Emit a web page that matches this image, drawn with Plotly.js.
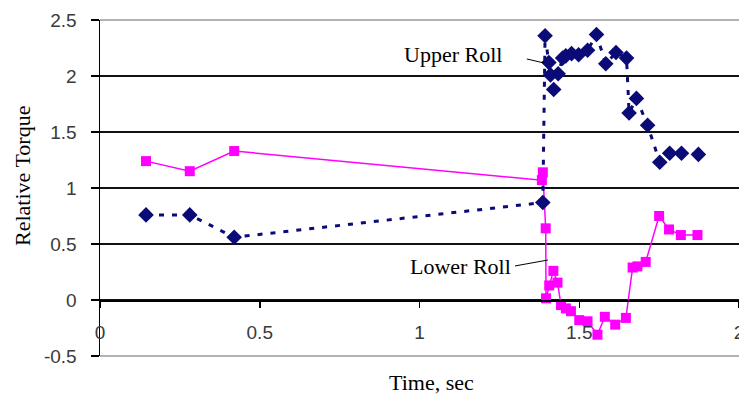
<!DOCTYPE html>
<html>
<head>
<meta charset="utf-8">
<script src="https://cdn.plot.ly/plotly-3.0.1.min.js"></script>
<style>html,body{margin:0;padding:0;background:#fff;}#chart{width:739px;height:397px;}</style>
</head>
<body>
<div id="chart"></div>
<script>
// Upper Roll series (time in sec, relative torque)
var upperX = [0.144, 0.281, 0.42, 1.386, 1.393, 1.405, 1.41, 1.42, 1.434, 1.448, 1.458, 1.476, 1.498, 1.526, 1.554, 1.583, 1.615, 1.648, 1.656, 1.679, 1.714, 1.752, 1.783, 1.82, 1.873];
var upperY = [0.76, 0.76, 0.56, 0.87, 2.36, 2.12, 2.01, 1.88, 2.02, 2.16, 2.18, 2.20, 2.19, 2.23, 2.37, 2.11, 2.21, 2.16, 1.67, 1.80, 1.56, 1.23, 1.31, 1.31, 1.30];
// Lower Roll series
var lowerX = [0.144, 0.281, 0.42, 1.383, 1.386, 1.395, 1.396, 1.406, 1.419, 1.432, 1.443, 1.458, 1.474, 1.5, 1.526, 1.557, 1.58, 1.6125, 1.646, 1.667, 1.682, 1.708, 1.75, 1.781, 1.818, 1.87];
var lowerY = [1.24, 1.15, 1.33, 1.07, 1.14, 0.64, 0.015, 0.13, 0.26, 0.155, -0.045, -0.075, -0.10, -0.18, -0.19, -0.31, -0.15, -0.22, -0.16, 0.29, 0.30, 0.34, 0.75, 0.63, 0.58, 0.58];
// Tick labels
var xTickVals = [0, 0.5, 1, 1.5, 2];
var xTickText = ["0", "0.5", "1", "1.5", "2"];
var yTickVals = [-0.5, 0, 0.5, 1, 1.5, 2, 2.5];
var yTickText = ["-0.5", "0", "0.5", "1", "1.5", "2", "2.5"];
var seriesNames = ["Upper Roll", "Lower Roll"];
var xTitle = "Time, sec";
var yTitle = "Relative Torque";

var NAVY = "#0b0b78";
var MAGENTA = "#ff00ff";

var traces = [
  {x: lowerX, y: lowerY, mode: "lines", name: seriesNames[1], showlegend: false,
   line: {color: MAGENTA, width: 1.5}, hoverinfo: "skip"},
  {x: upperX, y: upperY, mode: "lines", name: seriesNames[0], showlegend: false,
   line: {color: NAVY, width: 3, dash: "5px,8px"}, hoverinfo: "skip"},
  {x: lowerX, y: lowerY, mode: "markers", name: seriesNames[1], showlegend: false,
   marker: {symbol: "square", size: 10, color: MAGENTA}},
  {x: upperX, y: upperY, mode: "markers", name: seriesNames[0], showlegend: false,
   marker: {symbol: "diamond", size: 12, color: NAVY}}
];

var tickFont = {family: "Liberation Sans, Arial, sans-serif", size: 19, color: "#3a3a3a"};
var serif = {family: "Liberation Serif, Times New Roman, serif", size: 22, color: "#000"};

var layout = {
  width: 739, height: 397,
  margin: {l: 100, r: 0, t: 20, b: 41},
  paper_bgcolor: "#fff", plot_bgcolor: "#fff",
  showlegend: false,
  xaxis: {
    range: [0, 2], anchor: "free", position: 1/6,
    tickvals: xTickVals, ticktext: xTickText, ticklabeloverflow: "allow",
    showline: true, linecolor: "#000", linewidth: 1.5,
    ticks: "outside", ticklen: 6, tickwidth: 1.5, tickcolor: "#000",
    showgrid: false, zeroline: false, tickfont: tickFont, ticklabelstandoff: 9
  },
  yaxis: {
    range: [-0.5, 2.5],
    tickvals: yTickVals, ticktext: yTickText,
    showline: true, linecolor: "#000", linewidth: 1.5,
    ticks: "outside", ticklen: 8, tickwidth: 1.5, tickcolor: "#000",
    showgrid: true, gridcolor: "#111", gridwidth: 1.3, zeroline: false,
    tickfont: tickFont, ticklabelstandoff: 10
  },
  shapes: [
    {type: "line", xref: "paper", yref: "paper", x0: 0, x1: 1, y0: 1, y1: 1, line: {color: "#999", width: 1.5}, layer: "above"},
    {type: "line", xref: "paper", yref: "paper", x0: 0, x1: 1, y0: 0, y1: 0, line: {color: "#999", width: 1.5}, layer: "above"},
    {type: "line", xref: "x", yref: "y", x0: 1.336, y0: 2.152, x1: 1.39, y1: 2.116, line: {color: "#000", width: 1}},
    {type: "line", xref: "x", yref: "y", x0: 1.299, y0: 0.304, x1: 1.402, y1: 0.357, line: {color: "#000", width: 1}}
  ],
  annotations: [
    {text: xTitle, xref: "paper", yref: "paper", x: (431 - 100) / 639, y: (356 - 382) / 336,
     xanchor: "center", yanchor: "middle", showarrow: false, font: serif},
    {text: yTitle, xref: "paper", yref: "paper", x: (22 - 100) / 639, y: (356 - 176) / 336,
     xanchor: "center", yanchor: "middle", textangle: -90, showarrow: false, font: serif},
    {text: seriesNames[0], xref: "paper", yref: "paper", x: (453 - 100) / 639, y: (356 - 55) / 336,
     xanchor: "center", yanchor: "middle", showarrow: false, font: serif},
    {text: seriesNames[1], xref: "paper", yref: "paper", x: (460 - 100) / 639, y: (356 - 266) / 336,
     xanchor: "center", yanchor: "middle", showarrow: false, font: serif}
  ]
};

Plotly.newPlot("chart", traces, layout, {displayModeBar: false, staticPlot: true});
</script>
</body>
</html>
